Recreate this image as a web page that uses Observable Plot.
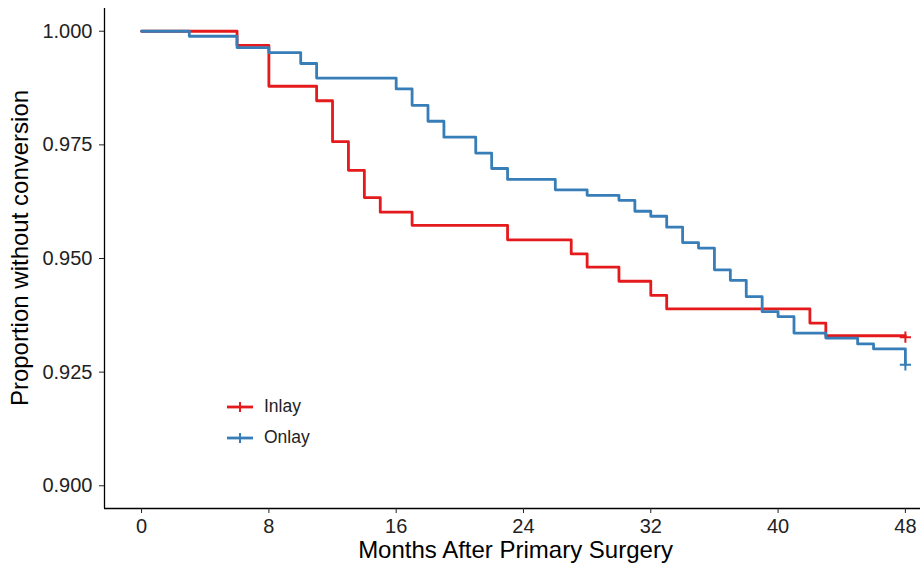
<!DOCTYPE html>
<html>
<head>
<meta charset="utf-8">
<script src="https://cdn.jsdelivr.net/npm/d3@7"></script>
<script src="https://cdn.jsdelivr.net/npm/@observablehq/plot@0.6"></script>
<style>
  html, body { margin: 0; padding: 0; background: #fff; }
  #wrap { position: relative; width: 920px; height: 571px; overflow: hidden; font-family: "Liberation Sans", Arial, sans-serif; }
  #legend { position: absolute; left: 227px; top: 391px; }
  .row { display: flex; align-items: center; height: 31px; }
  .row span { margin-left: 11px; font-size: 17.5px; color: #222; }
</style>
</head>
<body>
<div id="wrap"></div>
<script>
// Kaplan-Meier curves (step-after at each month)
const groups = ["Inlay", "Onlay"];
const colors = ["#E41A1C", "#377EB8"];

const inlayMonths = [0, 6, 8, 11, 12, 13, 14, 15, 17, 23, 27, 28, 30, 32, 33, 42, 43, 48];
const inlaySurv   = [1.0, 0.9969, 0.9879, 0.9847, 0.9757, 0.9694, 0.9634, 0.9602, 0.9573, 0.9541, 0.9510, 0.9481, 0.9450, 0.9419, 0.9389, 0.9358, 0.9330, 0.9330];

const onlayMonths = [0, 3, 6, 8, 10, 11, 16, 17, 18, 19, 21, 22, 23, 26, 28, 30, 31, 32, 33, 34, 35, 36, 37, 38, 39, 40, 41, 43, 45, 46, 48];
const onlaySurv   = [1.0, 0.9989, 0.9964, 0.9953, 0.9929, 0.9897, 0.9873, 0.9837, 0.9802, 0.9767, 0.9732, 0.9698, 0.9674, 0.9651, 0.9639, 0.9628, 0.9604, 0.9593, 0.9569, 0.9535, 0.9523, 0.9475, 0.9452, 0.9416, 0.9383, 0.9372, 0.9336, 0.9325, 0.9312, 0.9301, 0.9266];

// censored observations (+ marks)
const censorGroups = ["Inlay", "Onlay"];
const censorMonths = [48, 48];
const censorSurv   = [0.9327, 0.9266];

const xTicks = [0, 8, 16, 24, 32, 40, 48];
const yTicks = [0.900, 0.925, 0.950, 0.975, 1.000];

const xDomain = [-2.33, 48.95];
const yDomain = [0.895, 1.005];

const curve = (g, ms, ss) => ms.map((m, i) => ({group: g, month: m, surv: ss[i]}));
const inlay = curve("Inlay", inlayMonths, inlaySurv);
const onlay = curve("Onlay", onlayMonths, onlaySurv);
const censors = censorMonths.map((m, i) => ({group: censorGroups[i], month: m, surv: censorSurv[i]}));

const colorOf = g => colors[groups.indexOf(g)];

const chart = Plot.plot({
  width: 920,
  height: 571,
  marginLeft: 104,
  marginRight: 0,
  marginTop: 8,
  marginBottom: 63,
  style: { fontFamily: '"Liberation Sans", Arial, sans-serif', background: "#fff", overflow: "visible" },
  x: { domain: xDomain },
  y: { domain: yDomain },
  marks: [
    Plot.line(inlay, { x: "month", y: "surv", curve: "step-after", stroke: colorOf("Inlay"), strokeWidth: 2.8 }),
    Plot.line(onlay, { x: "month", y: "surv", curve: "step-after", stroke: colorOf("Onlay"), strokeWidth: 2.8 }),
    Plot.dot(censors, { x: "month", y: "surv", symbol: "plus", r: 3.7, stroke: d => colorOf(d.group), strokeWidth: 2 }),
    Plot.ruleY([yDomain[0]], { stroke: "#000", strokeWidth: 1.3 }),
    Plot.ruleX([xDomain[0]], { stroke: "#000", strokeWidth: 1.3 }),
    Plot.axisX({ ticks: xTicks, tickSize: 5, tickPadding: 5, fontSize: 20, label: null, stroke: "#222", color: "#222", tickFormat: d => String(d) }),
    Plot.axisY({ ticks: yTicks, tickSize: 5, tickPadding: 7, fontSize: 20, label: null, stroke: "#222", color: "#222", tickFormat: d3.format(".3f") }),
    Plot.text(["Months After Primary Surgery"], { text: d => d, frameAnchor: "bottom", textAnchor: "middle", dx: 3, dy: 49.5, fontSize: 24, fill: "#000" }),
    Plot.text(["Proportion without conversion"], { text: d => d, frameAnchor: "left", textAnchor: "middle", lineAnchor: "middle", rotate: -90, dx: -83.7, dy: -10.5, fontSize: 24, fill: "#000" })
  ]
});

const wrap = document.getElementById("wrap");
wrap.appendChild(chart);

// legend inside the panel
const legend = document.createElement("div");
legend.id = "legend";
groups.forEach((g, i) => {
  const row = document.createElement("div");
  row.className = "row";
  const ns = "http://www.w3.org/2000/svg";
  const svg = document.createElementNS(ns, "svg");
  svg.setAttribute("width", 26);
  svg.setAttribute("height", 14);
  const h = document.createElementNS(ns, "line");
  h.setAttribute("x1", 0); h.setAttribute("x2", 26); h.setAttribute("y1", 7); h.setAttribute("y2", 7);
  h.setAttribute("stroke", colors[i]); h.setAttribute("stroke-width", 2.8);
  const v = document.createElementNS(ns, "line");
  v.setAttribute("x1", 13); v.setAttribute("x2", 13); v.setAttribute("y1", 2); v.setAttribute("y2", 12);
  v.setAttribute("stroke", colors[i]); v.setAttribute("stroke-width", 2);
  svg.appendChild(h); svg.appendChild(v);
  const label = document.createElement("span");
  label.textContent = g;
  row.appendChild(svg);
  row.appendChild(label);
  legend.appendChild(row);
});
wrap.appendChild(legend);
</script>
</body>
</html>
